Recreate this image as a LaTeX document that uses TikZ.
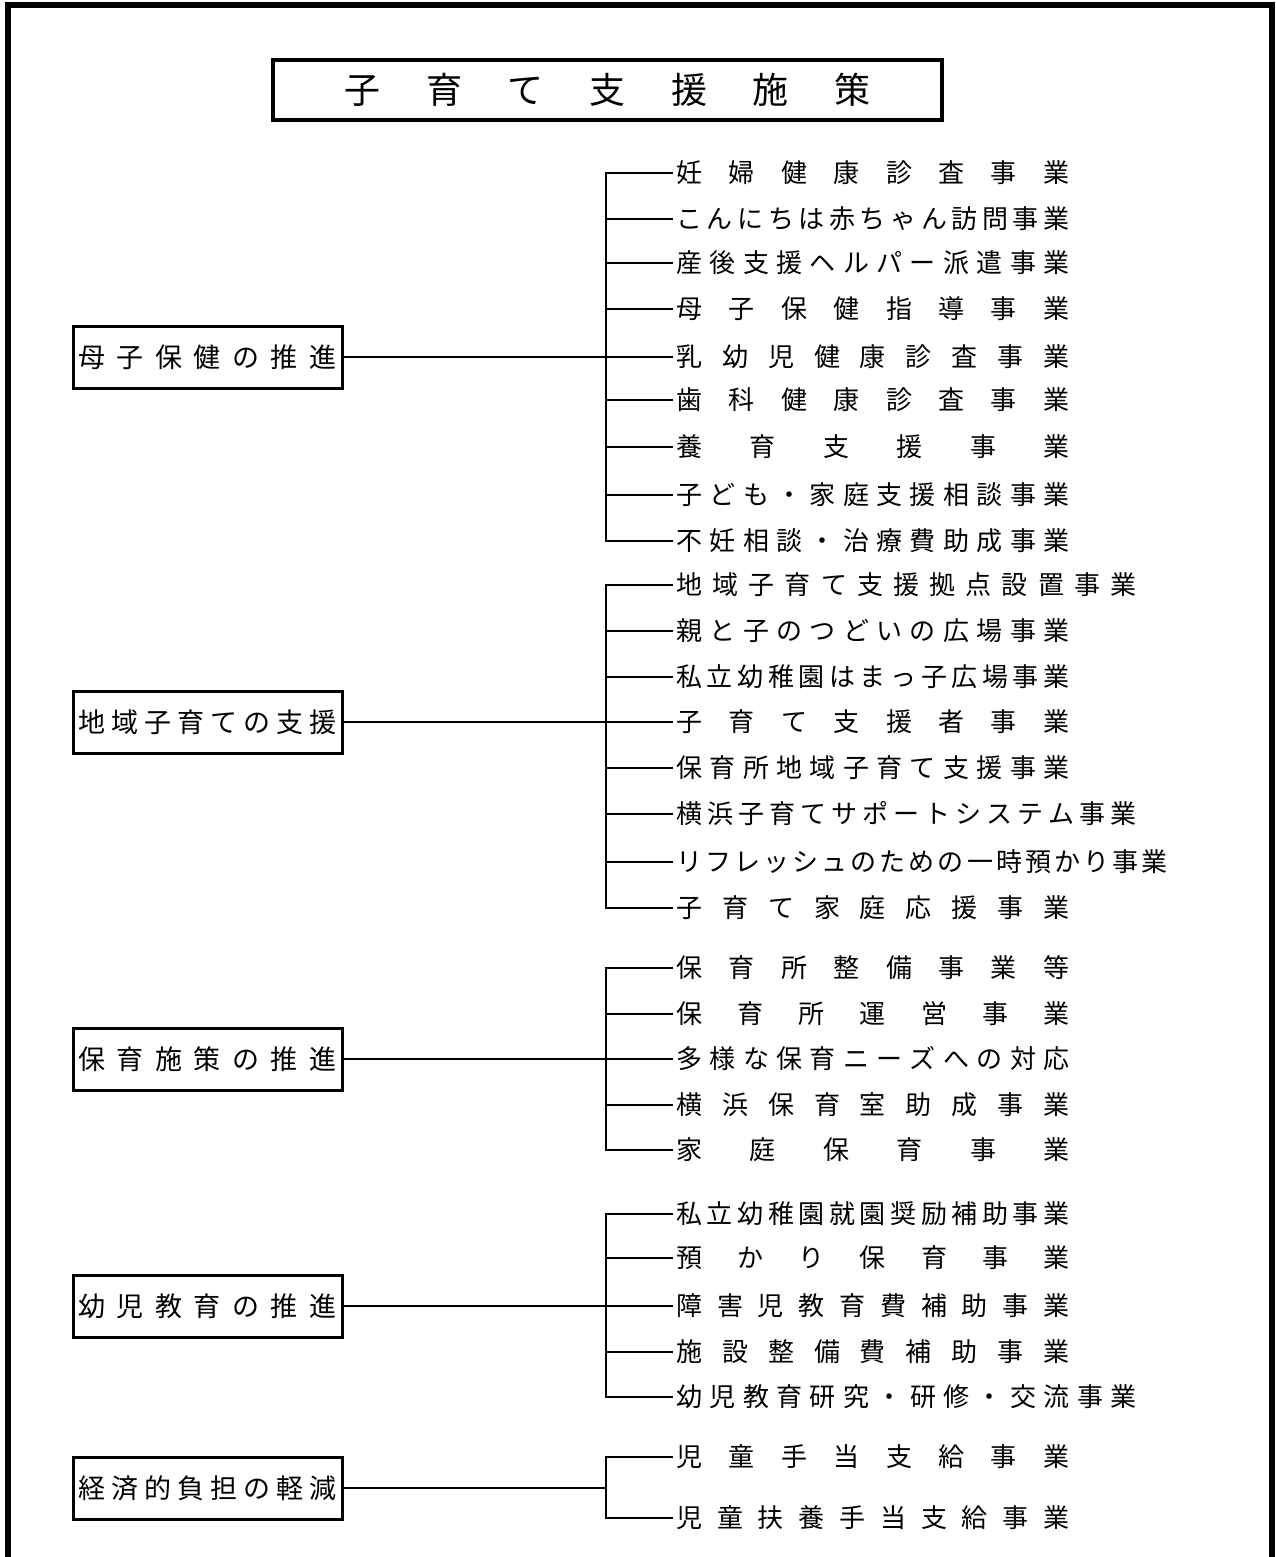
\documentclass[tikz,border=0pt]{standalone}
\usepackage{fontspec}
\setmainfont{Noto Sans CJK JP}
\usetikzlibrary{positioning}

% spread the characters of #2 evenly over the width #1
\newcommand\spread[2]{\makebox[#1][s]{\spreadloop#2\relax}}
\def\spreadloop#1#2{#1\ifx\relax#2\else\hfill\expandafter\spreadloop\fi#2}

\begin{document}
\begin{tikzpicture}[x=0.5pt, y=-0.5pt,
    frame/.style={line width=3pt},
    headbox/.style={draw, line width=1.75pt, minimum width=334.5pt, minimum height=30pt, inner sep=0pt, font=\fontsize{18}{21}\selectfont},
    groupbox/.style={draw, line width=1.5pt, minimum width=134.5pt, minimum height=31pt, inner sep=0pt, font=\fontsize{13.5}{16}\selectfont},
    item/.style={anchor=west, inner ysep=0pt, inner xsep=1.5pt, font=\fontsize{13}{15}\selectfont},
    link/.style={line width=1pt}]
    \useasboundingbox (0,0) rectangle (1275,1557);
    \draw[frame] (8,1557) -- (8,5) -- (1272,5) -- (1272,1557);

    \node[headbox] (head) at (607.5,90) {\spread{263pt}{子育て支援施策}};
    \coordinate (trunk) at (606,0);

    % groups
    \node[groupbox] (g1) at (207.5,357) {\spread{129pt}{母子保健の推進}};
    \node[groupbox] (g2) at (207.5,722) {\spread{129pt}{地域子育ての支援}};
    \node[groupbox] (g3) at (207.5,1059) {\spread{129pt}{保育施策の推進}};
    \node[groupbox] (g4) at (207.5,1306) {\spread{129pt}{幼児教育の推進}};
    \node[groupbox] (g5) at (207.5,1488) {\spread{129pt}{経済的負担の軽減}};

    % items
    \node[item] (g1i1) at (673,173) {\spread{196.5pt}{妊婦健康診査事業}};
    \node[item] (g1i2) at (673,219) {\spread{196.5pt}{こんにちは赤ちゃん訪問事業}};
    \node[item] (g1i3) at (673,263) {\spread{196.5pt}{産後支援ヘルパー派遣事業}};
    \node[item] (g1i4) at (673,309) {\spread{196.5pt}{母子保健指導事業}};
    \node[item] (g1i5) at (673,357) {\spread{196.5pt}{乳幼児健康診査事業}};
    \node[item] (g1i6) at (673,400) {\spread{196.5pt}{歯科健康診査事業}};
    \node[item] (g1i7) at (673,447) {\spread{196.5pt}{養育支援事業}};
    \node[item] (g1i8) at (673,495) {\spread{196.5pt}{子ども・家庭支援相談事業}};
    \node[item] (g1i9) at (673,541) {\spread{196.5pt}{不妊相談・治療費助成事業}};

    \node[item] (g2i1) at (673,585) {\spread{230pt}{地域子育て支援拠点設置事業}};
    \node[item] (g2i2) at (673,631) {\spread{196.5pt}{親と子のつどいの広場事業}};
    \node[item] (g2i3) at (673,677) {\spread{196.5pt}{私立幼稚園はまっ子広場事業}};
    \node[item] (g2i4) at (673,722) {\spread{196.5pt}{子育て支援者事業}};
    \node[item] (g2i5) at (673,768) {\spread{196.5pt}{保育所地域子育て支援事業}};
    \node[item] (g2i6) at (673,814) {\spread{230pt}{横浜子育てサポートシステム事業}};
    \node[item] (g2i7) at (673,862) {\spread{245.5pt}{リフレッシュのための一時預かり事業}};
    \node[item] (g2i8) at (673,908) {\spread{196.5pt}{子育て家庭応援事業}};

    \node[item] (g3i1) at (673,968) {\spread{196.5pt}{保育所整備事業等}};
    \node[item] (g3i2) at (673,1014) {\spread{196.5pt}{保育所運営事業}};
    \node[item] (g3i3) at (673,1059) {\spread{196.5pt}{多様な保育ニーズへの対応}};
    \node[item] (g3i4) at (673,1105) {\spread{196.5pt}{横浜保育室助成事業}};
    \node[item] (g3i5) at (673,1150) {\spread{196.5pt}{家庭保育事業}};

    \node[item] (g4i1) at (673,1214) {\spread{196.5pt}{私立幼稚園就園奨励補助事業}};
    \node[item] (g4i2) at (673,1258) {\spread{196.5pt}{預かり保育事業}};
    \node[item] (g4i3) at (673,1306) {\spread{196.5pt}{障害児教育費補助事業}};
    \node[item] (g4i4) at (673,1352) {\spread{196.5pt}{施設整備費補助事業}};
    \node[item] (g4i5) at (673,1397) {\spread{230pt}{幼児教育研究・研修・交流事業}};

    \node[item] (g5i1) at (673,1457) {\spread{196.5pt}{児童手当支給事業}};
    \node[item] (g5i2) at (673,1518) {\spread{196.5pt}{児童扶養手当支給事業}};

    % connectors
    \draw[line width=0.6pt] (g1.east) -- (g1i5.west);
    \draw[link] (g1i1.west) -- (g1i1.west -| trunk) -- (g1i9.west -| trunk) -- (g1i9.west)
        (g1i2.west -| trunk) -- (g1i2.west)
        (g1i3.west -| trunk) -- (g1i3.west)
        (g1i4.west -| trunk) -- (g1i4.west)
        (g1i6.west -| trunk) -- (g1i6.west)
        (g1i7.west -| trunk) -- (g1i7.west)
        (g1i8.west -| trunk) -- (g1i8.west);

    \draw[link] (g2.east) -- (g2i4.west);
    \draw[link] (g2i1.west) -- (g2i1.west -| trunk) -- (g2i8.west -| trunk) -- (g2i8.west)
        (g2i2.west -| trunk) -- (g2i2.west)
        (g2i3.west -| trunk) -- (g2i3.west)
        (g2i5.west -| trunk) -- (g2i5.west)
        (g2i6.west -| trunk) -- (g2i6.west)
        (g2i7.west -| trunk) -- (g2i7.west);

    \draw[link] (g3.east) -- (g3i3.west);
    \draw[link] (g3i1.west) -- (g3i1.west -| trunk) -- (g3i5.west -| trunk) -- (g3i5.west)
        (g3i2.west -| trunk) -- (g3i2.west)
        (g3i4.west -| trunk) -- (g3i4.west);

    \draw[link] (g4.east) -- (g4i3.west);
    \draw[link] (g4i1.west) -- (g4i1.west -| trunk) -- (g4i5.west -| trunk) -- (g4i5.west)
        (g4i2.west -| trunk) -- (g4i2.west)
        (g4i4.west -| trunk) -- (g4i4.west);

    \draw[link] (g5.east) -- (g5.east -| trunk);
    \draw[link] (g5i1.west) -- (g5i1.west -| trunk) -- (g5i2.west -| trunk) -- (g5i2.west);
\end{tikzpicture}
\end{document}
